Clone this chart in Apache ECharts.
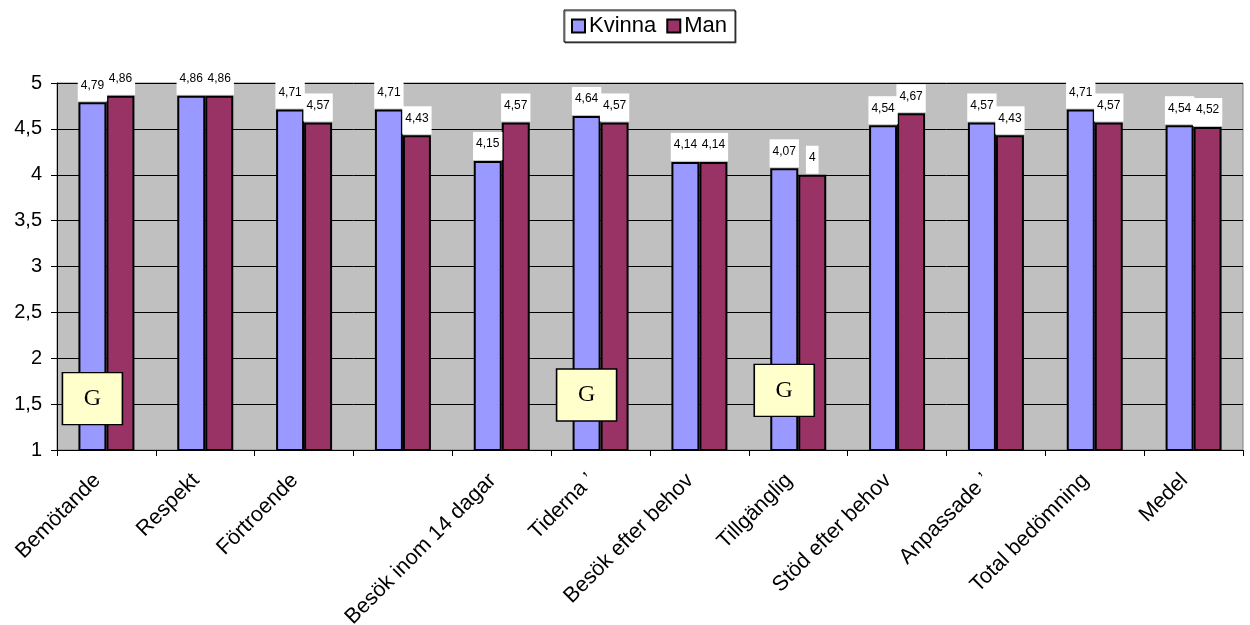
<!DOCTYPE html>
<html>
<head>
<meta charset="utf-8">
<script src="https://cdn.jsdelivr.net/npm/echarts@6/dist/echarts.min.js"></script>
<style>
  html, body { margin: 0; padding: 0; background: #fff; }
  #chart { width: 1250px; height: 625px; }
</style>
</head>
<body>
<div id="chart"></div>
<script>
// Survey scores per question, split by gender (the fourth question has no readable name)
const categories = ['Bemötande', 'Respekt', 'Förtroende', '', 'Besök inom 14 dagar', 'Tiderna \u2019',
  'Besök efter behov', 'Tillgänglig', 'Stöd efter behov', 'Anpassade \u2019',
  'Total bedömning', 'Medel'];
const kvinna = [4.79, 4.86, 4.71, 4.71, 4.15, 4.64, 4.14, 4.07, 4.54, 4.57, 4.71, 4.54];
const man    = [4.86, 4.86, 4.57, 4.43, 4.57, 4.57, 4.14, 4.00, 4.67, 4.43, 4.57, 4.52];
// Significance markers "G": [category index, vertical position on the value axis]
const markers = [[0, 1.56], [5, 1.6], [7, 1.65]];
const yTicks = { min: 1, max: 5, interval: 0.5 };

const FONT = 'Arial, "Liberation Sans", sans-serif';
const comma = v => String(v).replace('.', ',');

const valueLabel = {
  show: true,
  position: 'top',
  distance: 1,
  color: '#000',
  fontFamily: FONT,
  fontSize: 12,
  backgroundColor: '#fff',
  padding: [6, 3, 10, 3],
  formatter: p => comma(p.value)
};

const chart = echarts.init(document.getElementById('chart'));
chart.setOption({
  animation: false,
  legend: {
    top: 10,
    left: 564,
    icon: 'rect',
    itemWidth: 13,
    itemHeight: 13,
    itemGap: 10,
    padding: [5, 8, 5, 7],
    borderColor: '#000',
    borderWidth: 1,
    backgroundColor: '#fff',
    shadowColor: 'rgba(0,0,0,0.5)',
    shadowOffsetX: 1,
    shadowOffsetY: 1,
    textStyle: { fontFamily: FONT, fontSize: 22, color: '#000', padding: [0, 0, 0, -1] },
    data: [
      { name: 'Kvinna', itemStyle: { color: '#9999FF', borderColor: '#000', borderWidth: 2 } },
      { name: 'Man', itemStyle: { color: '#993366', borderColor: '#000', borderWidth: 2 } }
    ]
  },
  grid: {
    left: 57, right: 7, top: 83, bottom: 175,
    outerBoundsMode: 'none',
    containLabel: false,
    show: true, backgroundColor: '#C0C0C0', borderColor: '#808080', borderWidth: 1
  },
  xAxis: {
    type: 'category',
    data: categories,
    axisLine: { lineStyle: { color: '#000', width: 1 } },
    axisTick: { show: true, length: 6, lineStyle: { color: '#000' } },
    axisLabel: {
      interval: 0,
      rotate: 45,
      margin: 18,
      padding: [0, 13, 0, 0],
      fontFamily: FONT,
      fontSize: 21.5,
      color: '#000'
    }
  },
  yAxis: {
    type: 'value',
    min: yTicks.min, max: yTicks.max, interval: yTicks.interval,
    axisLine: { show: true, lineStyle: { color: '#000' } },
    axisTick: { show: true, length: 6, lineStyle: { color: '#000' } },
    splitLine: { lineStyle: { color: '#000', width: 1 } },
    axisLabel: {
      margin: 15,
      fontFamily: FONT,
      fontSize: 20,
      color: '#000',
      formatter: v => comma(v)
    }
  },
  series: [
    {
      name: 'Kvinna',
      type: 'bar',
      barWidth: 28,
      barGap: '0%',
      data: kvinna,
      itemStyle: { color: '#9999FF', borderColor: '#000', borderWidth: 2 },
      label: valueLabel,
      markPoint: {
        symbol: 'rect',
        symbolSize: [60, 52],
        itemStyle: { color: '#FFFFCC', borderColor: '#000', borderWidth: 1.5 },
        label: {
          show: true,
          formatter: 'G',
          color: '#000',
          fontFamily: '"Liberation Serif", "DejaVu Serif", serif',
          fontSize: 24
        },
        data: markers.map(m => ({ coord: [m[0], m[1]], value: 'G' }))
      }
    },
    {
      name: 'Man',
      type: 'bar',
      barWidth: 28,
      data: man,
      itemStyle: { color: '#993366', borderColor: '#000', borderWidth: 2 },
      label: valueLabel
    }
  ]
});
</script>
</body>
</html>
